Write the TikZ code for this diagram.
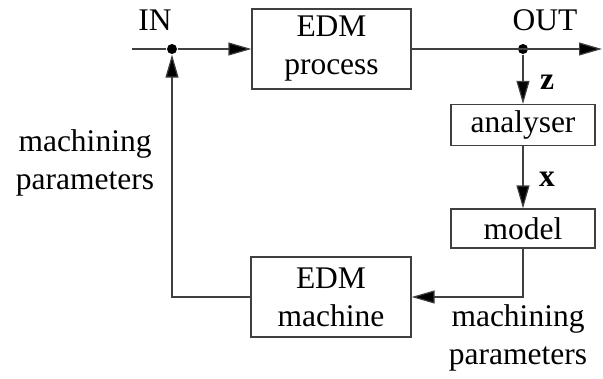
\documentclass[tikz,border=0pt]{standalone}
\usepackage{fontspec}
\setmainfont{Liberation Serif}
\usetikzlibrary{arrows.meta, positioning}

\begin{document}
\begin{tikzpicture}[x=1pt, y=-1pt, line width=1.2pt, font=\fontsize{31.5}{38}\selectfont]

			\tikzstyle{blockr}=[rectangle, draw=black!75, line width=1.2pt, inner sep=0pt, align=center]
			\tikzstyle{junc}=[circle, fill=black, inner sep=0pt, minimum size=10pt]
			\tikzstyle{sig}=[draw=black!75, -{Triangle[length=23pt, width=13pt, fill=black]}]

			\useasboundingbox (0,0) rectangle (603,378);

			\node (process) at (331.5,49) [blockr, minimum width=159pt, minimum height=80pt] {EDM\\process};
			\node (analyser) at (523,125) [blockr, minimum width=144pt, minimum height=41pt] {analyser};
			\node (model) at (523,228.5) [blockr, minimum width=144pt, minimum height=39pt] {model};
			\node (machine) at (331,297) [blockr, minimum width=160pt, minimum height=80pt] {EDM\\machine};

			\coordinate (inpt) at (132,49);
			\coordinate (outpt) at (602,49);
			\node (jin) at (172,49) [junc] {};
			\node (jout) at (523,49) [junc] {};
			\coordinate (c1) at (523,297);
			\coordinate (c2) at (172,297);


			\draw [draw=black!75] (inpt) -- (jin);
			\draw [sig] (jin) -- (process.west);
			\draw [sig] (process.east) -- (outpt);

			\draw [sig] (jout) -- (analyser.north);
			\draw [sig] (analyser.south) -- (model.north);

			\draw [sig] (model.south) -- (c1) -- (machine.east);
			\draw [sig] (machine.west) -- (c2) -- (jin.south);


			\node (inlbl) at (155,20) {IN};
			\node (outlbl) at (545,20) {OUT};
			\node (zlbl) at (547,82) {\textbf{z}};
			\node (xlbl) at (547,179) {\textbf{x}};

			\node (parleft) at (85,163) [align=center] {machining\\parameters};
			\node (parright) at (518,338) [align=center] {machining\\parameters};

\end{tikzpicture}
\end{document}
